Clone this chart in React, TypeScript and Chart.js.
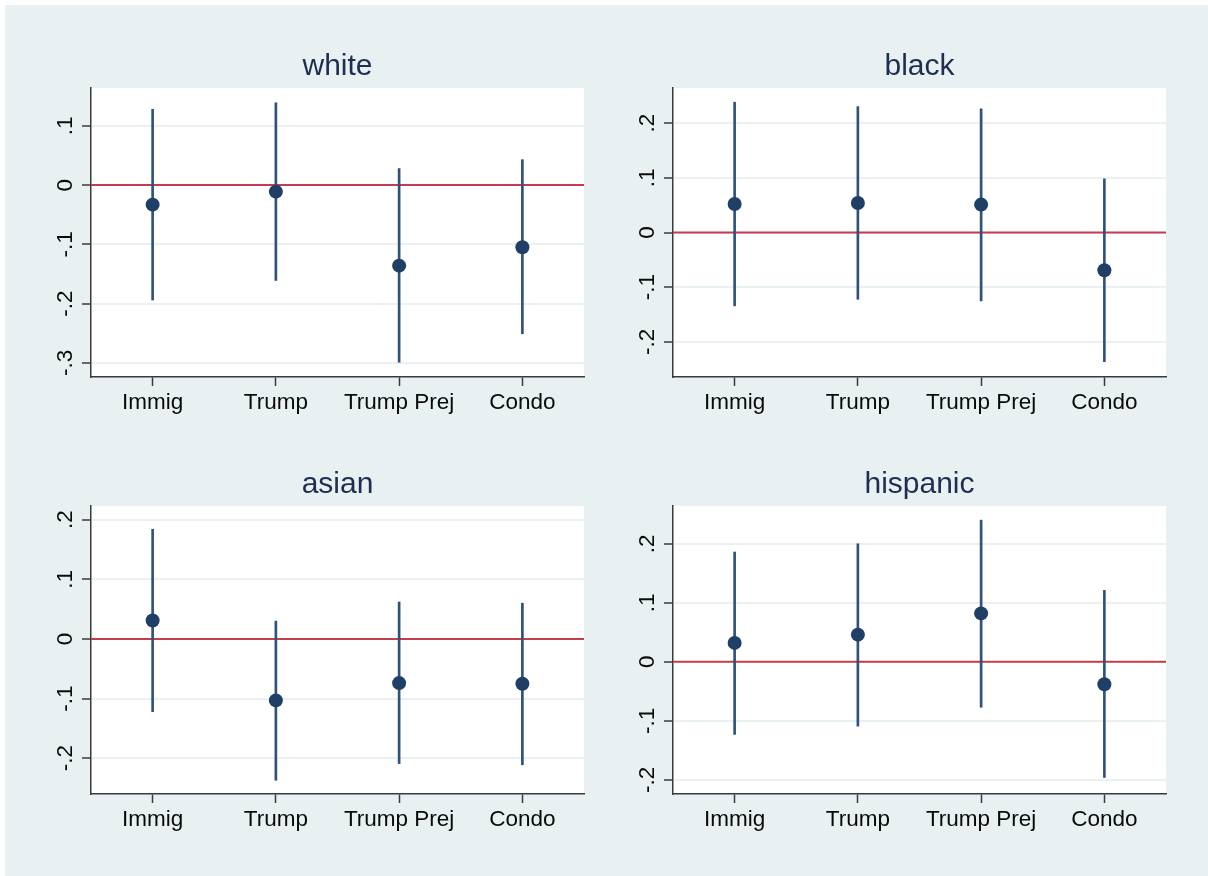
import React, { useEffect, useRef } from "react";
import { Chart, registerables } from "chart.js";

Chart.register(...registerables);

// ---------- data ----------
const categories = ["Immig", "Trump", "Trump Prej", "Condo"];
const referenceValue = 0;

const whiteEst = [-0.033, -0.011, -0.136, -0.105];
const whiteLow = [-0.194, -0.161, -0.299, -0.251];
const whiteHigh = [0.128, 0.139, 0.028, 0.043];
const whiteTicks = [-0.3, -0.2, -0.1, 0, 0.1];
const whiteTickLabels = ["-.3", "-.2", "-.1", "0", ".1"];
const whiteRange = [-0.324, 0.164];

const blackEst = [0.052, 0.054, 0.051, -0.069];
const blackLow = [-0.134, -0.122, -0.125, -0.236];
const blackHigh = [0.238, 0.23, 0.226, 0.098];
const blackTicks = [-0.2, -0.1, 0, 0.1, 0.2];
const blackTickLabels = ["-.2", "-.1", "0", ".1", ".2"];
const blackRange = [-0.264, 0.264];

const asianEst = [0.031, -0.103, -0.074, -0.075];
const asianLow = [-0.122, -0.237, -0.209, -0.211];
const asianHigh = [0.184, 0.03, 0.062, 0.06];
const asianTicks = [-0.2, -0.1, 0, 0.1, 0.2];
const asianTickLabels = ["-.2", "-.1", "0", ".1", ".2"];
const asianRange = [-0.26, 0.223];

const hispanicEst = [0.032, 0.046, 0.082, -0.038];
const hispanicLow = [-0.123, -0.109, -0.077, -0.196];
const hispanicHigh = [0.186, 0.2, 0.24, 0.121];
const hispanicTicks = [-0.2, -0.1, 0, 0.1, 0.2];
const hispanicTickLabels = ["-.2", "-.1", "0", ".1", ".2"];
const hispanicRange = [-0.224, 0.264];

// ---------- styles ----------
const FONT = "'Liberation Sans', Arial, Helvetica, sans-serif";
const BG = "#e9f0f2";
const DOT = "#1f3f66";
const BAR = "#2f527c";
const RED = "#c43d4c";
const GRID = "#eaf1f3";
const AXIS = "#3a3a3a";
const TITLE = "#1e2d52";
const TEXT = "#0a0a0a";

const CANVAS_W = 620;
const CANVAS_H = 440;

type PanelProps = {
  title: string;
  est: number[];
  low: number[];
  high: number[];
  ticks: number[];
  tickLabels: string[];
  range: number[];
  left: number;
  top: number;
  axisH: number;
};

function Panel(props: PanelProps) {
  const ref = useRef<HTMLCanvasElement | null>(null);
  useEffect(() => {
    const canvas = ref.current;
    if (!canvas) return;
    const { title, est, low, high, ticks, tickLabels, range, axisH } = props;

    const plotBg = {
      id: "plotBg",
      beforeDraw(chart: any) {
        const { ctx, chartArea } = chart;
        ctx.save();
        ctx.fillStyle = "#ffffff";
        ctx.fillRect(chartArea.left, chartArea.top, chartArea.right - chartArea.left, chartArea.bottom - chartArea.top);
        ctx.restore();
      },
    };
    const zeroLine = {
      id: "zeroLine",
      beforeDatasetsDraw(chart: any) {
        const { ctx, chartArea } = chart;
        const y = chart.scales.y.getPixelForValue(referenceValue);
        ctx.save();
        ctx.strokeStyle = RED;
        ctx.lineWidth = 2;
        ctx.beginPath();
        ctx.moveTo(chartArea.left, y);
        ctx.lineTo(chartArea.right, y);
        ctx.stroke();
        ctx.restore();
      },
    };

    const chart = new Chart(canvas, {
      type: "bar",
      data: {
        labels: categories,
        datasets: [
          {
            type: "line",
            data: est,
            showLine: false,
            pointRadius: 7,
            pointHoverRadius: 7,
            pointBackgroundColor: DOT,
            pointBorderWidth: 0,
            borderColor: DOT,
            order: 0,
          } as any,
          {
            type: "bar",
            data: low.map((l, i) => [l, high[i]]),
            backgroundColor: BAR,
            borderWidth: 0,
            barThickness: 2,
            order: 1,
          } as any,
        ],
      },
      plugins: [plotBg, zeroLine],
      options: {
        animation: false,
        responsive: false,
        devicePixelRatio: 1,
        layout: { padding: { left: 0, right: 36, top: 0, bottom: 0 } },
        plugins: {
          legend: { display: false },
          tooltip: { enabled: false },
          title: {
            display: true,
            text: title,
            color: TITLE,
            font: { family: FONT, size: 30, weight: "normal" },
            padding: { top: 49, bottom: 3 },
            fullSize: false,
          },
        },
        scales: {
          x: {
            type: "category",
            offset: true,
            grid: {
              display: true,
              drawOnChartArea: false,
              drawTicks: true,
              tickLength: 9,
              tickColor: AXIS,
              tickWidth: 1.5,
              offset: false,
            },
            border: { display: true, color: AXIS, width: 1.5 },
            ticks: {
              color: TEXT,
              font: { family: FONT, size: 22.5 },
              padding: 3,
              maxRotation: 0,
              minRotation: 0,
              autoSkip: false,
            },
            afterFit: (s: any) => {
              s.height = axisH;
            },
          },
          y: {
            type: "linear",
            min: range[0],
            max: range[1],
            afterBuildTicks: (s: any) => {
              s.ticks = ticks.map((v) => ({ value: v }));
            },
            grid: {
              color: GRID,
              lineWidth: 2,
              drawTicks: true,
              tickLength: 9,
              tickColor: AXIS,
              tickWidth: 1.5,
            },
            border: { display: true, color: AXIS, width: 1.5 },
            ticks: {
              minRotation: 90,
              maxRotation: 90,
              crossAlign: "center",
              padding: 3,
              color: TEXT,
              font: { family: FONT, size: 22.5 },
              callback: (v: any) => {
                const idx = ticks.findIndex((t) => Math.abs(t - Number(v)) < 1e-9);
                return idx >= 0 ? tickLabels[idx] : "";
              },
            },
            afterFit: (s: any) => {
              s.width = 91;
            },
          },
        },
      } as any,
    });
    return () => chart.destroy();
  }, []);

  return (
    <canvas
      ref={ref}
      width={CANVAS_W}
      height={CANVAS_H}
      style={{
        position: "absolute",
        left: props.left,
        top: props.top,
        width: CANVAS_W,
        height: CANVAS_H,
      }}
    />
  );
}

export default function App() {
  return (
    <div
      style={{
        position: "absolute",
        left: 0,
        top: 0,
        width: 1208,
        height: 876,
        background: "#ffffff",
        overflow: "hidden",
      }}
    >
      <div
        style={{
          position: "absolute",
          left: 5,
          top: 5,
          width: 1203,
          height: 871,
          background: BG,
        }}
      />
      <Panel title="white" est={whiteEst} low={whiteLow} high={whiteHigh} ticks={whiteTicks} tickLabels={whiteTickLabels} range={whiteRange} left={0} top={0} axisH={63} />
      <Panel title="black" est={blackEst} low={blackLow} high={blackHigh} ticks={blackTicks} tickLabels={blackTickLabels} range={blackRange} left={582} top={0} axisH={63} />
      <Panel title="asian" est={asianEst} low={asianLow} high={asianHigh} ticks={asianTicks} tickLabels={asianTickLabels} range={asianRange} left={0} top={418} axisH={64} />
      <Panel title="hispanic" est={hispanicEst} low={hispanicLow} high={hispanicHigh} ticks={hispanicTicks} tickLabels={hispanicTickLabels} range={hispanicRange} left={582} top={418} axisH={64} />
    </div>
  );
}
